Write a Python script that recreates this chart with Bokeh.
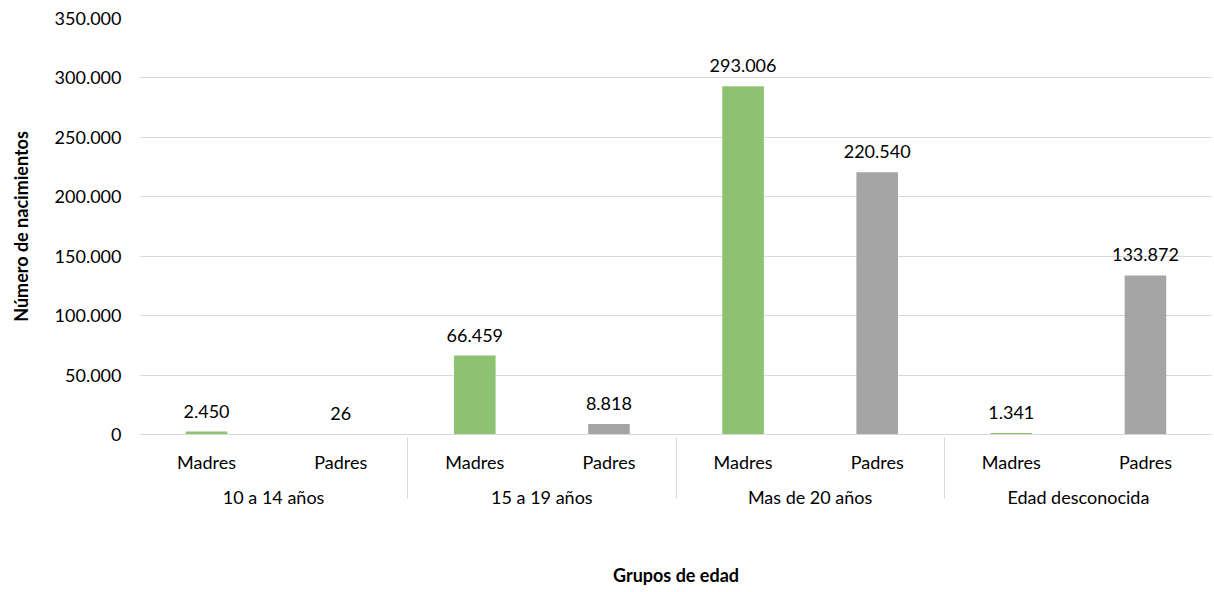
from bokeh.plotting import figure
from bokeh.models import FactorRange, ColumnDataSource, LabelSet, CustomJSTickFormatter
from bokeh.core.properties import value
from bokeh.embed import file_html
from bokeh.resources import INLINE

grupos = ["10 a 14 años", "15 a 19 años", "Mas de 20 años", "Edad desconocida"]
subgrupos = ["Madres", "Padres"]
madres = [2450, 66459, 293006, 1341]
padres = [26, 8818, 220540, 133872]
y_ticks = [0, 50000, 100000, 150000, 200000, 250000, 300000, 350000]

VERDE = "#8DC370"
GRIS = "#A5A5A5"
FONT = "Lato"

factores, valores, colores, textos = [], [], [], []
for g, m, p in zip(grupos, madres, padres):
    for s, v, c in ((subgrupos[0], m, VERDE), (subgrupos[1], p, GRIS)):
        factores.append((g, s))
        valores.append(v)
        colores.append(c)
        textos.append(f"{v:,}".replace(",", "."))

src = ColumnDataSource(dict(x=factores, y=valores, color=colores, label=textos))

p = figure(
    x_range=FactorRange(*factores, factor_padding=0, group_padding=0, subgroup_padding=0, range_padding=0),
    y_range=(0, 350000),
    width=1212, height=588,
    output_backend="svg", toolbar_location=None,
    min_border_left=139, min_border_right=0, min_border_top=18, min_border_bottom=10,
)
p.outline_line_color = None
p.background_fill_color = "white"
p.border_fill_color = "white"

p.vbar(x="x", top="y", width=0.31, color="color", source=src, line_color=None)

labels = LabelSet(x="x", y="y", text="label", source=src, text_align="center",
                  text_baseline="bottom", y_offset=14, text_font=value(FONT),
                  text_font_size="18px", text_color="#000000")
p.add_layout(labels)

# grid
p.xgrid.grid_line_color = None
p.ygrid.grid_line_color = "#D9D9D9"
p.ygrid.grid_line_width = 1
p.ygrid.ticker = y_ticks

# y axis
p.yaxis.ticker = y_ticks
p.yaxis.formatter = CustomJSTickFormatter(code="return tick.toFixed(0).replace(/\\B(?=(\\d{3})+(?!\\d))/g, '.');")
p.yaxis.axis_line_color = None
p.yaxis.major_tick_line_color = None
p.yaxis.minor_tick_line_color = None
p.yaxis.major_label_standoff = 12
p.yaxis.major_label_text_font = FONT
p.yaxis.major_label_text_font_size = "18px"
p.yaxis.major_label_text_color = "#000000"
p.yaxis.axis_label = "Número de nacimientos"
p.yaxis.axis_label_text_font = FONT
p.yaxis.axis_label_text_font_size = "18px"
p.yaxis.axis_label_text_font_style = "bold"
p.yaxis.axis_label_text_color = "#000000"
p.yaxis.axis_label_standoff = 20

# x axis
xa = p.xaxis[0]
xa.axis_line_color = "#D9D9D9"
xa.major_tick_line_color = None
xa.minor_tick_line_color = None
xa.major_label_text_font = FONT
xa.major_label_text_font_size = "18px"
xa.major_label_text_color = "#000000"
xa.major_label_standoff = 10
xa.group_text_font = FONT
xa.group_text_font_size = "18px"
xa.group_text_font_style = "normal"
xa.group_text_color = "#000000"
xa.separator_line_color = "#D9D9D9"
xa.separator_line_width = 1
xa.axis_label = "Grupos de edad"
xa.axis_label_text_font = FONT
xa.axis_label_text_font_size = "18px"
xa.axis_label_text_font_style = "bold"
xa.axis_label_text_color = "#000000"
xa.axis_label_standoff = 53

open("out.html", "w").write(file_html(p, INLINE))
